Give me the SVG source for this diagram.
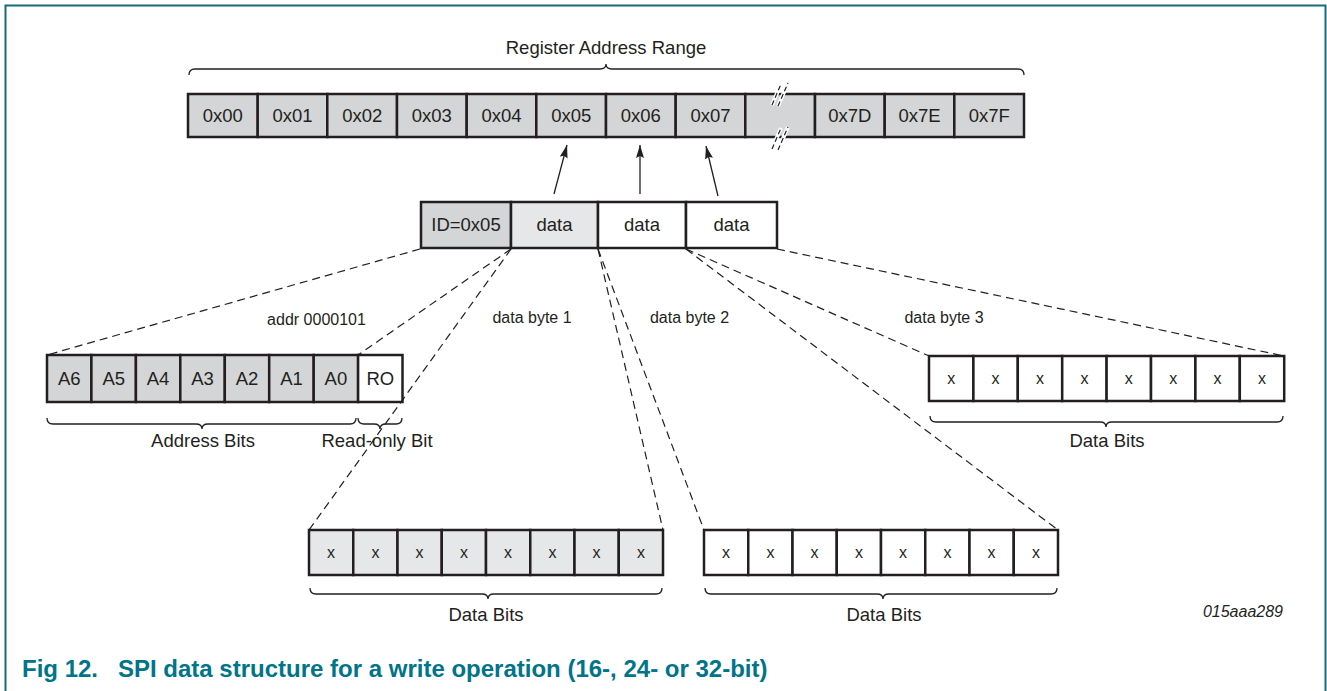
<svg xmlns="http://www.w3.org/2000/svg" width="1327" height="691" viewBox="0 0 1327 691">
<style>
text{font-family:"Liberation Sans",Arial,sans-serif;fill:#231f20}
.c{stroke:#231f20;stroke-width:2.5}
.g{fill:#d4d5d6}
.l{fill:#e6e7e8}
.w{fill:#fff}
.t18{font-size:18.5px;text-anchor:middle}
.t16{font-size:16px;text-anchor:middle}
.tx{font-size:16px;text-anchor:middle}
.br{fill:none;stroke:#231f20;stroke-width:1.3}
.d{fill:none;stroke:#231f20;stroke-width:1.2;stroke-dasharray:8 5}
.ar{fill:none;stroke:#231f20;stroke-width:1.3}
.cap{font-size:24px;font-weight:bold;fill:#007489}
</style>
<defs>
<marker id="ah" markerUnits="userSpaceOnUse" markerWidth="14" markerHeight="9" refX="13" refY="4" orient="auto">
<path d="M0,0 L13,4 L0,8 L2,4 Z" fill="#231f20"/>
</marker>
</defs>
<rect width="1327" height="691" fill="#fff"/>
<path d="M5.5,691 V5.5 H1325.5 V691" fill="none" stroke="#17697b" stroke-width="2"/>

<g id="register-range">
<text class="t18" x="606" y="54">Register Address Range</text>
<path class="br" d="M189,75 Q189,69 195,69 L600,69 Q606,69 606,64 Q606,69 612,69 L1018,69 Q1024,69 1024,75"/>
</g>
<g id="registers">
<g id="r00"><rect class="c g" x="188" y="94" width="69.7" height="43"/><text class="t18" x="222.8" y="122">0x00</text></g>
<g id="r01"><rect class="c g" x="257.7" y="94" width="69.7" height="43"/><text class="t18" x="292.5" y="122">0x01</text></g>
<g id="r02"><rect class="c g" x="327.3" y="94" width="69.7" height="43"/><text class="t18" x="362.2" y="122">0x02</text></g>
<g id="r03"><rect class="c g" x="397" y="94" width="69.7" height="43"/><text class="t18" x="431.8" y="122">0x03</text></g>
<g id="r04"><rect class="c g" x="466.7" y="94" width="69.7" height="43"/><text class="t18" x="501.5" y="122">0x04</text></g>
<g id="r05"><rect class="c g" x="536.3" y="94" width="69.7" height="43"/><text class="t18" x="571.2" y="122">0x05</text></g>
<g id="r06"><rect class="c g" x="606" y="94" width="69.7" height="43"/><text class="t18" x="640.8" y="122">0x06</text></g>
<g id="r07"><rect class="c g" x="675.7" y="94" width="69.7" height="43"/><text class="t18" x="710.5" y="122">0x07</text></g>
<g id="rbreak"><rect class="c g" x="745.3" y="94" width="69.7" height="43"/>
<path d="M772,105 L781,84 M778,106 L788,83 M772,149 L781,128 M778,150 L788,127" stroke="#fff" stroke-width="4" fill="none"/>
<path d="M772,105 L781,84 M778,106 L788,83 M772,149 L781,128 M778,150 L788,127" stroke="#231f20" stroke-width="1.2" stroke-dasharray="5 3" fill="none"/>
</g>
<g id="r7d"><rect class="c g" x="815" y="94" width="69.7" height="43"/><text class="t18" x="849.8" y="122">0x7D</text></g>
<g id="r7e"><rect class="c g" x="884.7" y="94" width="69.7" height="43"/><text class="t18" x="919.5" y="122">0x7E</text></g>
<g id="r7f"><rect class="c g" x="954.3" y="94" width="69.7" height="43"/><text class="t18" x="989.2" y="122">0x7F</text></g>
</g>

<g id="frame">
<g id="f-id"><rect class="c g" x="421" y="202" width="90" height="46"/><text class="t18" x="466" y="231">ID=0x05</text></g>
<g id="f-data1"><rect class="c l" x="511" y="202" width="87" height="46"/><text class="t18" x="554.5" y="231">data</text></g>
<g id="f-data2"><rect class="c w" x="598" y="202" width="88" height="46"/><text class="t18" x="642" y="231">data</text></g>
<g id="f-data3"><rect class="c w" x="686" y="202" width="91" height="46"/><text class="t18" x="731.5" y="231">data</text></g>
</g>

<g id="addr-bits">
<g id="a6"><rect class="c g" x="47" y="355" width="44.4" height="47"/><text class="t18" x="69.2" y="385">A6</text></g>
<g id="a5"><rect class="c g" x="91.4" y="355" width="44.5" height="47"/><text class="t18" x="113.7" y="385">A5</text></g>
<g id="a4"><rect class="c g" x="135.9" y="355" width="44.4" height="47"/><text class="t18" x="158.1" y="385">A4</text></g>
<g id="a3"><rect class="c g" x="180.3" y="355" width="44.5" height="47"/><text class="t18" x="202.6" y="385">A3</text></g>
<g id="a2"><rect class="c g" x="224.8" y="355" width="44.4" height="47"/><text class="t18" x="247" y="385">A2</text></g>
<g id="a1"><rect class="c g" x="269.2" y="355" width="44.5" height="47"/><text class="t18" x="291.5" y="385">A1</text></g>
<g id="a0"><rect class="c g" x="313.7" y="355" width="44.4" height="47"/><text class="t18" x="335.9" y="385">A0</text></g>
<g id="ro"><rect class="c w" x="358.1" y="355" width="44.4" height="47"/><text class="t18" x="380.3" y="385">RO</text></g>
<path class="br" d="M47,418 Q47,424 53,424 L196,424 Q202,424 202,429 Q202,424 208,424 L350,424 Q356,424 356,418"/>
<path class="br" d="M358,418 Q358,424 364,424 L374,424 Q380,424 380,429 Q380,424 386,424 L396,424 Q402,424 402,418"/>
<text class="t18" x="203" y="447">Address Bits</text>
<text class="t18" x="377" y="447">Read-only Bit</text>
</g>

<g id="byte1-bits">
<g><rect class="c l" x="309" y="530" width="44.25" height="45"/><text class="tx" x="331.1" y="558">x</text></g>
<g><rect class="c l" x="353.25" y="530" width="44.25" height="45"/><text class="tx" x="375.4" y="558">x</text></g>
<g><rect class="c l" x="397.5" y="530" width="44.25" height="45"/><text class="tx" x="419.6" y="558">x</text></g>
<g><rect class="c l" x="441.75" y="530" width="44.25" height="45"/><text class="tx" x="463.9" y="558">x</text></g>
<g><rect class="c l" x="486" y="530" width="44.25" height="45"/><text class="tx" x="508.1" y="558">x</text></g>
<g><rect class="c l" x="530.25" y="530" width="44.25" height="45"/><text class="tx" x="552.4" y="558">x</text></g>
<g><rect class="c l" x="574.5" y="530" width="44.25" height="45"/><text class="tx" x="596.6" y="558">x</text></g>
<g><rect class="c l" x="618.75" y="530" width="44.25" height="45"/><text class="tx" x="640.9" y="558">x</text></g>
<path class="br" d="M310,588 Q310,594 316,594 L482,594 Q488,594 488,599 Q488,594 494,594 L656,594 Q662,594 662,588"/>
<text class="t18" x="486" y="621">Data Bits</text>
</g>

<g id="byte2-bits">
<g><rect class="c w" x="704" y="530" width="44.25" height="45"/><text class="tx" x="726.1" y="558">x</text></g>
<g><rect class="c w" x="748.25" y="530" width="44.25" height="45"/><text class="tx" x="770.4" y="558">x</text></g>
<g><rect class="c w" x="792.5" y="530" width="44.25" height="45"/><text class="tx" x="814.6" y="558">x</text></g>
<g><rect class="c w" x="836.75" y="530" width="44.25" height="45"/><text class="tx" x="858.9" y="558">x</text></g>
<g><rect class="c w" x="881" y="530" width="44.25" height="45"/><text class="tx" x="903.1" y="558">x</text></g>
<g><rect class="c w" x="925.25" y="530" width="44.25" height="45"/><text class="tx" x="947.4" y="558">x</text></g>
<g><rect class="c w" x="969.5" y="530" width="44.25" height="45"/><text class="tx" x="991.6" y="558">x</text></g>
<g><rect class="c w" x="1013.75" y="530" width="44.25" height="45"/><text class="tx" x="1035.9" y="558">x</text></g>
<path class="br" d="M705,588 Q705,594 711,594 L877,594 Q883,594 883,599 Q883,594 889,594 L1051,594 Q1057,594 1057,588"/>
<text class="t18" x="884" y="621">Data Bits</text>
</g>

<g id="byte3-bits">
<g><rect class="c w" x="929" y="356" width="44.4" height="45"/><text class="tx" x="951.2" y="384">x</text></g>
<g><rect class="c w" x="973.4" y="356" width="44.4" height="45"/><text class="tx" x="995.6" y="384">x</text></g>
<g><rect class="c w" x="1017.8" y="356" width="44.4" height="45"/><text class="tx" x="1040" y="384">x</text></g>
<g><rect class="c w" x="1062.2" y="356" width="44.4" height="45"/><text class="tx" x="1084.4" y="384">x</text></g>
<g><rect class="c w" x="1106.6" y="356" width="44.4" height="45"/><text class="tx" x="1128.8" y="384">x</text></g>
<g><rect class="c w" x="1151" y="356" width="44.4" height="45"/><text class="tx" x="1173.2" y="384">x</text></g>
<g><rect class="c w" x="1195.4" y="356" width="44.4" height="45"/><text class="tx" x="1217.6" y="384">x</text></g>
<g><rect class="c w" x="1239.8" y="356" width="44.4" height="45"/><text class="tx" x="1262" y="384">x</text></g>
<path class="br" d="M930,416 Q930,422 936,422 L1100,422 Q1106,422 1106,427 Q1106,422 1112,422 L1277,422 Q1283,422 1283,416"/>
<text class="t18" x="1107" y="447">Data Bits</text>
</g>

<g id="connectors">
<line class="ar" x1="554" y1="194" x2="567" y2="145" marker-end="url(#ah)"/>
<line class="ar" x1="640" y1="194" x2="640" y2="145" marker-end="url(#ah)"/>
<line class="ar" x1="718" y1="196" x2="706" y2="146" marker-end="url(#ah)"/>
<line class="d" x1="420" y1="249" x2="47" y2="355"/>
<line class="d" x1="511" y1="249" x2="358" y2="355"/>
<line class="d" x1="511" y1="249" x2="309" y2="530"/>
<line class="d" x1="598" y1="249" x2="663" y2="530"/>
<line class="d" x1="598" y1="249" x2="704" y2="530"/>
<line class="d" x1="686" y1="249" x2="929" y2="356"/>
<line class="d" x1="686" y1="249" x2="1058" y2="530"/>
<line class="d" x1="777" y1="249" x2="1284" y2="356"/>
</g>

<g id="labels">
<text class="t16" x="316.5" y="325">addr 0000101</text>
<text class="t16" x="532" y="323">data byte 1</text>
<text class="t16" x="689.5" y="323">data byte 2</text>
<text class="t16" x="944" y="323">data byte 3</text>
<text x="1283" y="617" style="font-size:16px;font-style:italic;text-anchor:end">015aaa289</text>
</g>

<g id="caption">
<text class="cap" x="22" y="677">Fig 12.</text>
<text class="cap" x="118" y="677">SPI data structure for a write operation (16-, 24- or 32-bit)</text>
</g>
</svg>
